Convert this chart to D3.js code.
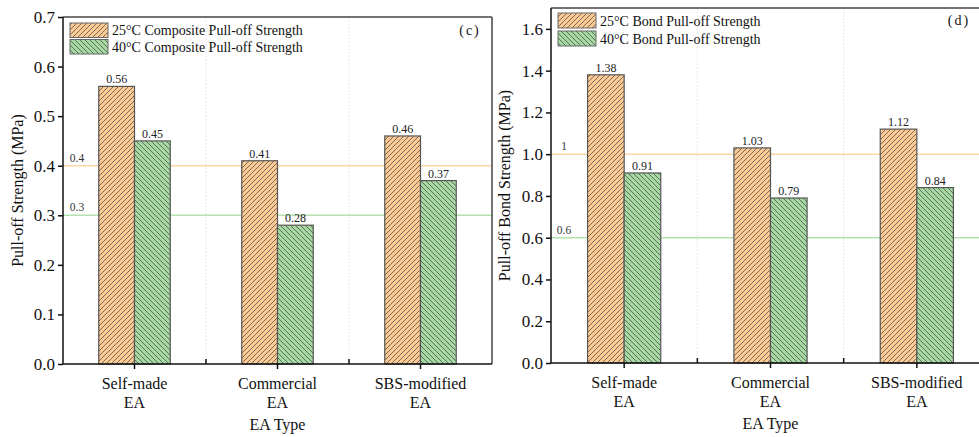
<!DOCTYPE html>
<html>
<head>
<meta charset="utf-8">
<script src="https://cdn.jsdelivr.net/npm/d3@7/dist/d3.min.js"></script>
<style>
  html, body { margin: 0; padding: 0; background: #fff; }
  svg { display: block; }
  svg text { font-family: "Liberation Serif", "Times New Roman", "DejaVu Serif", serif !important; }
</style>
</head>
<body>
<svg id="chart" width="979" height="437"></svg>
<script>
// ---- Data ----
const categories = ["Self-made", "Commercial", "SBS-modified"];
const categorySub = ["EA", "EA", "EA"];

const composite25 = [0.56, 0.41, 0.46];
const composite40 = [0.45, 0.28, 0.37];
const bond25 = [1.38, 1.03, 1.12];
const bond40 = [0.91, 0.79, 0.84];

const leftTicks = [0, 0.1, 0.2, 0.3, 0.4, 0.5, 0.6, 0.7];
const rightTicks = [0, 0.2, 0.4, 0.6, 0.8, 1.0, 1.2, 1.4, 1.6];

const leftRefs = [0.4, 0.3];
const rightRefs = [1, 0.6];
const refLabelsLeft = ["0.4", "0.3"];
const refLabelsRight = ["1", "0.6"];

const legendLeft = ["25°C Composite Pull-off Strength", "40°C Composite Pull-off Strength"];
const legendRight = ["25°C Bond Pull-off Strength", "40°C Bond Pull-off Strength"];

// ---- Styles ----
const orange = "#fdca94";
const green = "#a6d9a1";
const refOrange = "#fdd4a4";
const refGreen = "#b4e2ae";

const svg = d3.select("#chart");
const defs = svg.append("defs");

function hatch(id, fill, d) {
  const p = defs.append("pattern").attr("id", id)
    .attr("patternUnits", "userSpaceOnUse").attr("width", 5).attr("height", 5);
  p.append("rect").attr("width", 5).attr("height", 5).attr("fill", fill);
  p.append("path").attr("d", d).attr("stroke", "#4a4a4a").attr("stroke-width", 0.75).attr("fill", "none");
}
hatch("hOrange", orange, "M0,5 L5,0 M-1,1 L1,-1 M4,6 L6,4");
hatch("hGreen", green, "M0,0 L5,5 M-1,4 L1,6 M4,-1 L6,1");

function panel(cfg) {
  const g = svg.append("g");
  const x = d3.scaleBand().domain(categories).range([cfg.left, cfg.right]).padding(0);
  const y = d3.scaleLinear().domain([0, cfg.ymax]).range([cfg.bottom, cfg.top]);
  const bw = x.bandwidth() * 0.25;

  // vertical dotted grid at band boundaries
  categories.slice(1).forEach(c => {
    g.append("line").attr("x1", x(c)).attr("x2", x(c))
      .attr("y1", cfg.top).attr("y2", cfg.bottom)
      .attr("stroke", "#d8d8d8").attr("stroke-width", 0.8).attr("stroke-dasharray", "1.5,2");
  });

  // reference lines
  cfg.refs.forEach((r, i) => {
    g.append("line").attr("x1", cfg.left).attr("x2", cfg.right)
      .attr("y1", y(r)).attr("y2", y(r))
      .attr("stroke", i === 0 ? refOrange : refGreen).attr("stroke-width", 1.5);
    g.append("text").attr("x", cfg.left + cfg.refLabelDx).attr("y", y(r) - 4)
      .attr("text-anchor", "middle").attr("font-size", 11.5).attr("fill", "#333")
      .text(cfg.refLabels[i]);
  });

  // bars
  const series = [
    { vals: cfg.s25, fill: "url(#hOrange)", off: -bw },
    { vals: cfg.s40, fill: "url(#hGreen)", off: 0 }
  ];
  series.forEach(s => {
    g.selectAll(null).data(categories).enter().append("rect")
      .attr("x", c => x(c) + x.bandwidth() / 2 + s.off)
      .attr("y", (c, i) => y(s.vals[i]))
      .attr("width", bw)
      .attr("height", (c, i) => y(0) - y(s.vals[i]))
      .attr("fill", s.fill).attr("stroke", "#555").attr("stroke-width", 1.2);
    g.selectAll(null).data(categories).enter().append("text")
      .attr("x", c => x(c) + x.bandwidth() / 2 + s.off + bw / 2)
      .attr("y", (c, i) => y(s.vals[i]) - 3)
      .attr("text-anchor", "middle").attr("font-size", 12).attr("fill", "#222")
      .text((c, i) => s.vals[i].toFixed(2));
  });

  // frame top & right
  g.append("line").attr("x1", cfg.left).attr("x2", cfg.right).attr("y1", cfg.top).attr("y2", cfg.top)
    .attr("stroke", "#444").attr("stroke-width", 1.5);
  g.append("line").attr("x1", cfg.right).attr("x2", cfg.right).attr("y1", cfg.top).attr("y2", cfg.bottom)
    .attr("stroke", "#444").attr("stroke-width", 1.5);

  // y axis
  const ya = g.append("g").attr("transform", `translate(${cfg.left},0)`)
    .call(d3.axisLeft(y).tickValues(cfg.ticks).tickFormat(d3.format(".1f")).tickSize(5).tickPadding(3));
  ya.select(".domain").attr("stroke", "#111").attr("stroke-width", 1.5).attr("d", `M0,${cfg.bottom}V${cfg.top}`);
  ya.selectAll(".tick line").attr("stroke", "#111").attr("stroke-width", 1.5);
  ya.selectAll(".tick text").attr("font-size", 17).attr("fill", "#111");

  // x axis
  const xa = g.append("g").attr("transform", `translate(0,${cfg.bottom})`)
    .call(d3.axisBottom(x).tickSize(5).tickFormat(""));
  xa.select(".domain").attr("stroke", "#111").attr("stroke-width", 1.5)
    .attr("d", `M${cfg.left},0H${cfg.right}`);
  xa.selectAll(".tick line").attr("stroke", "#111").attr("stroke-width", 1.5);
  // inward ticks at boundaries
  categories.slice(1).forEach(c => {
    xa.append("line").attr("x1", x(c)).attr("x2", x(c)).attr("y1", 0).attr("y2", -5)
      .attr("stroke", "#111").attr("stroke-width", 1.5);
  });
  categories.forEach((c, i) => {
    const cx = x(c) + x.bandwidth() / 2;
    g.append("text").attr("x", cx).attr("y", cfg.bottom + 25).attr("text-anchor", "middle")
      .attr("font-size", 16).attr("fill", "#111").text(c);
    g.append("text").attr("x", cx).attr("y", cfg.bottom + 44).attr("text-anchor", "middle")
      .attr("font-size", 16).attr("fill", "#111").text(categorySub[i]);
  });
  g.append("text").attr("x", (cfg.left + cfg.xTitleRight) / 2).attr("y", cfg.bottom + 66)
    .attr("text-anchor", "middle").attr("font-size", 16).attr("fill", "#111").text("EA Type");

  // y title
  g.append("text")
    .attr("transform", `translate(${cfg.yTitleX},${(cfg.top + cfg.bottom) / 2}) rotate(-90)`)
    .attr("text-anchor", "middle").attr("font-size", 16).attr("fill", "#111").text(cfg.yTitle);

  // legend
  cfg.legend.forEach((t, i) => {
    const ly = cfg.legY + i * cfg.legStep;
    g.append("rect").attr("x", cfg.legX).attr("y", ly).attr("width", 38).attr("height", cfg.legH)
      .attr("fill", i === 0 ? "url(#hOrange)" : "url(#hGreen)").attr("stroke", "#666").attr("stroke-width", 1);
    g.append("text").attr("x", cfg.legX + 42).attr("y", ly + cfg.legH / 2 + 5)
      .attr("font-size", 14).attr("fill", "#111").text(t);
  });

  // panel tag
  g.append("text").attr("x", cfg.tagX).attr("y", cfg.tagY).attr("text-anchor", "middle")
    .attr("font-size", 14).attr("letter-spacing", 2).attr("fill", "#111").text(cfg.tag);
}

panel({
  left: 63, right: 492, top: 17, bottom: 364, ymax: 0.7,
  ticks: leftTicks, s25: composite25, s40: composite40,
  refs: leftRefs, refLabels: refLabelsLeft, refLabelDx: 14,
  yTitle: "Pull-off Strength (MPa)", yTitleX: 23, xTitleRight: 492,
  legend: legendLeft, legX: 70, legY: 23, legH: 14.5, legStep: 16.5,
  tag: "(c)", tagX: 470, tagY: 35
});

panel({
  left: 551, right: 990, top: 8, bottom: 363, ymax: 1.7,
  ticks: rightTicks, s25: bond25, s40: bond40,
  refs: rightRefs, refLabels: refLabelsRight, refLabelDx: 13,
  yTitle: "Pull-off Bond Strength (MPa)", yTitleX: 510, xTitleRight: 990,
  legend: legendRight, legX: 558, legY: 13, legH: 15, legStep: 18,
  tag: "(d)", tagX: 959, tagY: 25
});
</script>
</body>
</html>
